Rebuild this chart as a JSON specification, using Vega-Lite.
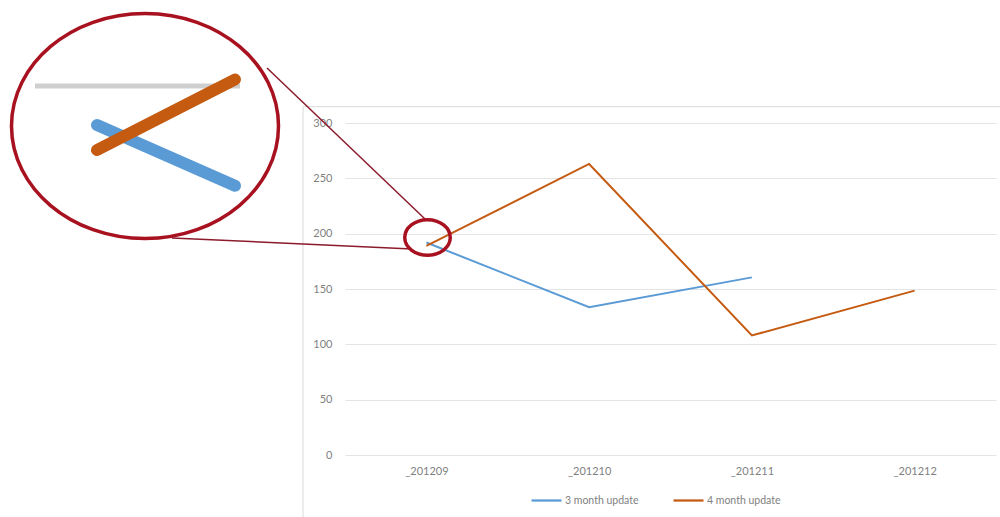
{
  "$schema": "https://vega.github.io/schema/vega-lite/v6.json",
  "width": 651,
  "height": 332,
  "autosize": {"type": "none"},
  "padding": {"left": 345, "top": 123, "right": 4, "bottom": 62},
  "background": "white",
  "config": {"view": {"stroke": null}, "font": "Lato"},
  "datasets": {
    "series": [
      {"period": "_201209", "idx": 0, "series": "3 month update", "value": 192},
      {"period": "_201210", "idx": 1, "series": "3 month update", "value": 133.5},
      {"period": "_201211", "idx": 2, "series": "3 month update", "value": 160.5},
      {"period": "_201209", "idx": 0, "series": "4 month update", "value": 189},
      {"period": "_201210", "idx": 1, "series": "4 month update", "value": 263},
      {"period": "_201211", "idx": 2, "series": "4 month update", "value": 108},
      {"period": "_201212", "idx": 3, "series": "4 month update", "value": 148.5}
    ],
    "border": [
      {"idx": -0.758, "value": 314.7, "idx2": 3.5246, "value2": 314.7},
      {"idx": -0.758, "value": 314.7, "idx2": -0.758, "value2": -56}
    ],
    "insetGrid": [
      {"idx": -2.4048, "value": 333.4, "idx2": -1.1452, "value2": 333.4}
    ],
    "insetLines": [
      {"series": "3 month update", "idx": -2.0238, "value": 298.2, "idx2": -1.1759, "value2": 243.3},
      {"series": "4 month update", "idx": -2.0238, "value": 275.6, "idx2": -1.1759, "value2": 339.3}
    ],
    "connectors": [
      {"idx": -0.9793, "value": 349.7, "idx2": -0.0084, "value2": 213.3},
      {"idx": -1.563, "value": 196.1, "idx2": -0.0883, "value2": 186.1}
    ],
    "bigCircle": [{"idx": -1.7289, "value": 297.3}],
    "smallCircle": [{"idx": 0.0069, "value": 196.5}]
  },
  "encoding": {
    "x": {
      "field": "idx", "type": "quantitative",
      "scale": {"domain": [-0.5, 3.5], "nice": false, "zero": false},
      "axis": {
        "title": null, "values": [0, 1, 2, 3],
        "labelExpr": "['_201209','_201210','_201211','_201212'][datum.value]",
        "grid": false, "domain": false, "ticks": false,
        "labelPadding": 10, "labelFontSize": 11, "labelColor": "#7f7f7f"
      }
    },
    "y": {
      "field": "value", "type": "quantitative",
      "scale": {"domain": [0, 300], "nice": false},
      "axis": {
        "title": null, "values": [0, 50, 100, 150, 200, 250, 300],
        "grid": true, "gridColor": "#e4e4e4", "gridWidth": 1,
        "domain": false, "ticks": false,
        "labelPadding": 13, "labelFontSize": 11, "labelColor": "#7f7f7f"
      }
    }
  },
  "layer": [
    {
      "data": {"name": "border"},
      "mark": {"type": "rule", "color": "#d9d9d9", "strokeWidth": 1},
      "encoding": {"x2": {"field": "idx2"}, "y2": {"field": "value2"}}
    },
    {
      "data": {"name": "series"},
      "mark": {"type": "line", "strokeWidth": 2},
      "encoding": {
        "color": {
          "field": "series", "type": "nominal",
          "scale": {"domain": ["3 month update", "4 month update"], "range": ["#5B9BD5", "#C55A11"]},
          "legend": {
            "title": null, "orient": "none", "direction": "horizontal", "legendX": 185, "legendY": 361,
            "symbolType": "stroke", "symbolStrokeWidth": 2.25, "symbolSize": 900,
            "labelFontSize": 10.5, "labelColor": "#7f7f7f", "columnPadding": 30, "labelOffset": 2
          }
        },
        "detail": {"field": "series"}
      }
    },
    {
      "data": {"name": "insetGrid"},
      "mark": {"type": "rule", "color": "#cfcfcf", "strokeWidth": 5},
      "encoding": {"x2": {"field": "idx2"}, "y2": {"field": "value2"}}
    },
    {
      "data": {"name": "insetLines"},
      "mark": {"type": "rule", "strokeWidth": 12, "strokeCap": "round"},
      "encoding": {
        "x2": {"field": "idx2"}, "y2": {"field": "value2"},
        "color": {
          "field": "series", "type": "nominal",
          "scale": {"domain": ["3 month update", "4 month update"], "range": ["#5B9BD5", "#C55A11"]},
          "legend": {
            "title": null, "orient": "none", "direction": "horizontal", "legendX": 185, "legendY": 361,
            "symbolType": "stroke", "symbolStrokeWidth": 2.25, "symbolSize": 900,
            "labelFontSize": 10.5, "labelColor": "#7f7f7f", "columnPadding": 30, "labelOffset": 2
          }
        }
      }
    },
    {
      "data": {"name": "connectors"},
      "mark": {"type": "rule", "color": "#8B1A2B", "strokeWidth": 1.5},
      "encoding": {"x2": {"field": "idx2"}, "y2": {"field": "value2"}}
    },
    {
      "data": {"name": "bigCircle"},
      "mark": {
        "type": "point", "filled": false, "opacity": 1,
        "shape": "M-1,0A1,0.843,0,1,1,1,0A1,0.843,0,1,1,-1,0Z",
        "size": 71289, "stroke": "#A8111F", "strokeWidth": 3.5
      }
    },
    {
      "data": {"name": "smallCircle"},
      "mark": {
        "type": "point", "filled": false, "opacity": 1,
        "shape": "M-1,0A1,0.78,0,1,1,1,0A1,0.78,0,1,1,-1,0Z",
        "size": 2070, "stroke": "#A8111F", "strokeWidth": 3.5
      }
    }
  ]
}
